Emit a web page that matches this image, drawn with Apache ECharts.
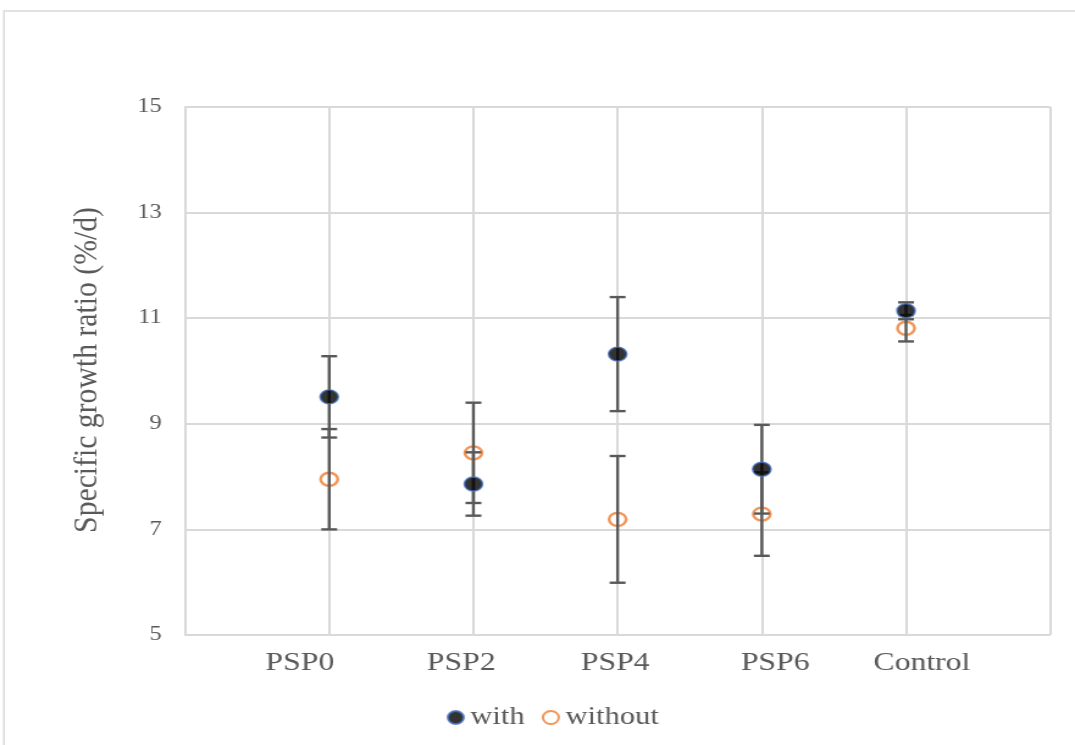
<!DOCTYPE html>
<html>
<head>
<meta charset="utf-8">
<script src="https://cdn.jsdelivr.net/npm/echarts@6/dist/echarts.min.js"></script>
<style>
  html, body { margin: 0; padding: 0; background: #fff; overflow: hidden; }
  /* the reference is stretched sideways, so the chart is drawn narrower and scaled out */
  #chart { width: 881px; height: 745px; transform: scaleX(1.2202); transform-origin: 0 0; }
</style>
</head>
<body>
<div id="chart"></div>
<script>
const categories = ["PSP0", "PSP2", "PSP4", "PSP6", "Control"];
const withValues = [9.51, 7.86, 10.32, 8.14, 11.14];
const withErrors = [0.77, 0.60, 1.08, 0.84, 0.16];
const withoutValues = [7.95, 8.45, 7.19, 7.29, 10.81];
const withoutErrors = [0.95, 0.95, 1.20, 0.79, 0.25];
const yTicks = [5, 7, 9, 11, 13, 15];

const FONT = '"Liberation Serif", "Times New Roman", serif';
const GREY = "#595959";
const GRID = "#d9d9d9";

// label nudges (px) so category names sit where the reference puts them
const labelShift = [-24, -10, -2, 11, 13];
const rich = {};
labelShift.forEach((d, i) => {
  rich["s" + i] = {
    fontFamily: FONT, fontSize: 26, color: GREY,
    padding: d > 0 ? [0, 0, 0, 2 * d] : [0, -2 * d, 0, 0]
  };
});

function points(values) {
  return values.map((v, i) => [i + 1, v]);
}

function errorBars(name, values, errs) {
  return {
    name: name,
    type: "custom",
    z: 3,
    silent: true,
    data: values.map((v, i) => [i + 1, v - errs[i], v + errs[i]]),
    renderItem: function (params, api) {
      const lo = api.coord([api.value(0), api.value(1)]);
      const hi = api.coord([api.value(0), api.value(2)]);
      const w = 6.5;
      const style = { stroke: GREY, lineWidth: 2.4 };
      return {
        type: "group",
        children: [
          { type: "line", shape: { x1: lo[0], y1: lo[1], x2: hi[0], y2: hi[1] }, style: style },
          { type: "line", shape: { x1: lo[0] - w, y1: lo[1], x2: lo[0] + w, y2: lo[1] }, style: style },
          { type: "line", shape: { x1: hi[0] - w, y1: hi[1], x2: hi[0] + w, y2: hi[1] }, style: style }
        ]
      };
    }
  };
}

const chart = echarts.init(document.getElementById("chart"));

chart.setOption({
  backgroundColor: "#fff",
  animation: false,
  graphic: [
    {
      type: "rect",
      shape: { x: 3.3, y: 11, width: 1000, height: 1000 },
      style: { fill: null, stroke: GRID, lineWidth: 1.5 },
      silent: true
    },
    {
      type: "text",
      x: 72, y: 370,
      rotation: Math.PI / 2,
      scaleX: 1.1,
      style: {
        text: "Specific growth ratio (%/d)",
        fontFamily: FONT, fontSize: 27, fill: GREY,
        align: "center", verticalAlign: "middle"
      },
      silent: true
    }
  ],
  grid: { left: 151.6, right: 20.3, top: 107, bottom: 110 },
  legend: {
    data: ["with", "without"],
    left: 361, top: 700,
    icon: "circle",
    itemWidth: 14, itemHeight: 13,
    itemGap: 14,
    textStyle: { fontFamily: FONT, fontSize: 25, color: GREY }
  },
  xAxis: {
    type: "value",
    min: 0, max: categories.length + 1, interval: 1,
    axisLine: { show: false },
    axisTick: { show: false },
    splitLine: { show: true, lineStyle: { color: GRID, width: 2 } },
    axisLabel: {
      margin: 15,
      rich: rich,
      formatter: function (v) {
        const i = v - 1;
        return categories[i] ? "{s" + i + "|" + categories[i] + "}" : "";
      }
    }
  },
  yAxis: {
    type: "value",
    min: yTicks[0], max: yTicks[yTicks.length - 1], interval: 2,
    axisLine: { show: true, lineStyle: { color: GRID, width: 2 } },
    axisTick: { show: false },
    splitLine: { show: true, lineStyle: { color: GRID, width: 2 } },
    axisLabel: { margin: 19, fontFamily: FONT, fontSize: 20, color: GREY }
  },
  series: [
    {
      name: "without",
      type: "scatter",
      z: 2,
      symbol: "circle",
      symbolSize: [14, 13],
      itemStyle: { color: "#fff", borderColor: "#ed7d31", borderWidth: 2.4 },
      data: points(withoutValues)
    },
    errorBars("with-err", withValues, withErrors),
    errorBars("without-err", withoutValues, withoutErrors),
    {
      name: "with",
      type: "scatter",
      z: 4,
      symbol: "circle",
      symbolSize: [15, 14],
      itemStyle: { color: "#000", borderColor: "#4472c4", borderWidth: 1.5 },
      data: points(withValues)
    }
  ]
});
</script>
</body>
</html>
